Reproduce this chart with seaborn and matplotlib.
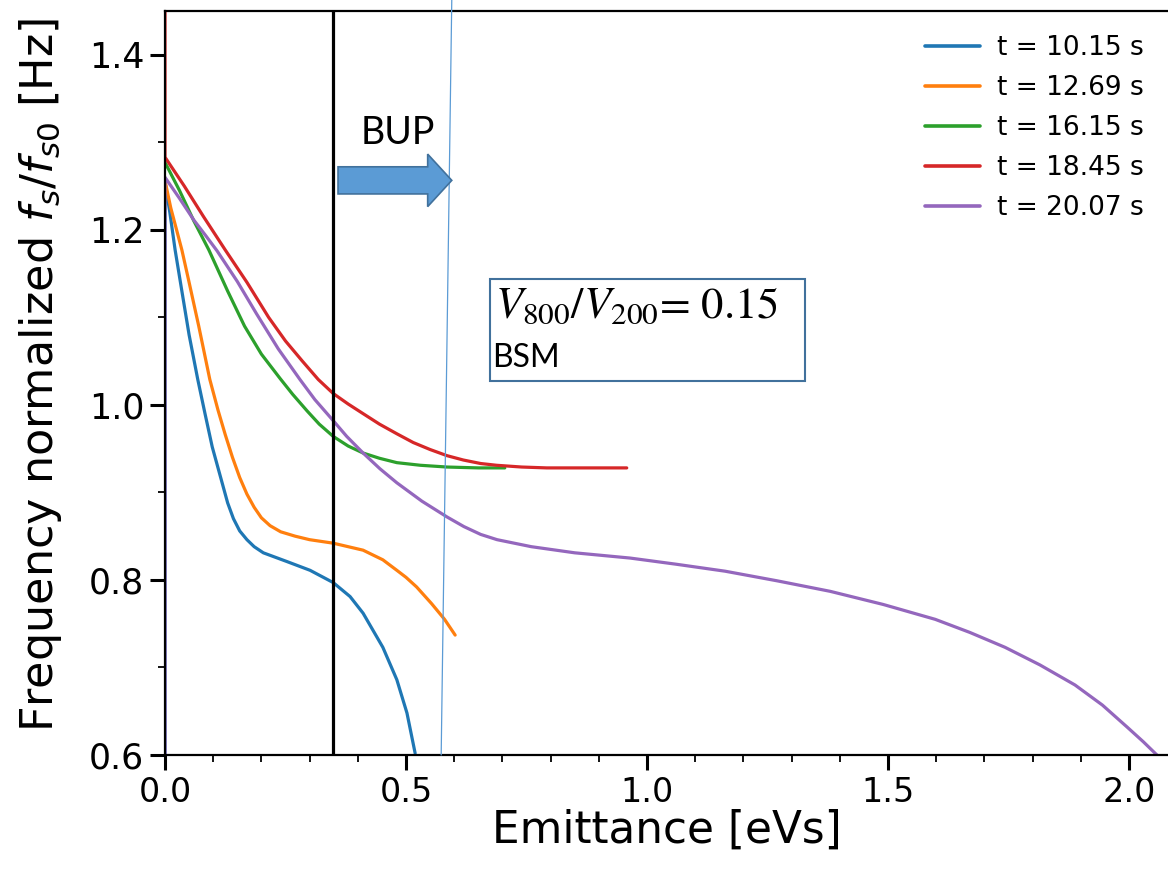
import numpy as np
import pandas as pd
import matplotlib
matplotlib.use("Agg")
import matplotlib.pyplot as plt
import seaborn as sns
from matplotlib.ticker import MultipleLocator, FormatStrFormatter
from matplotlib.patches import FancyArrow, Rectangle

# ---- data ----
labels = ["t = 10.15 s", "t = 12.69 s", "t = 16.15 s", "t = 18.45 s", "t = 20.07 s"]
colors = ["#1f77b4", "#ff7f0e", "#2ca02c", "#d62728", "#9467bd"]

x_blue = [0.0, 0.0, 0.010, 0.021, 0.035, 0.050, 0.068, 0.083, 0.098, 0.118, 0.130, 0.142, 0.155,
          0.170, 0.185, 0.204, 0.253, 0.301, 0.349, 0.384, 0.411, 0.452, 0.481, 0.502, 0.519]
y_blue = [0.55, 1.255, 1.220, 1.177, 1.130, 1.080, 1.029, 0.990, 0.952, 0.912, 0.888, 0.870, 0.856,
          0.846, 0.838, 0.831, 0.821, 0.811, 0.797, 0.781, 0.762, 0.723, 0.686, 0.648, 0.602]

x_orange = [0.0, 0.012, 0.024, 0.035, 0.050, 0.070, 0.093, 0.110, 0.125, 0.140, 0.155, 0.170,
            0.185, 0.200, 0.218, 0.240, 0.270, 0.300, 0.349, 0.411, 0.452, 0.481, 0.500, 0.522,
            0.553, 0.580, 0.602]
y_orange = [1.256, 1.225, 1.200, 1.177, 1.140, 1.090, 1.029, 0.994, 0.966, 0.940, 0.917, 0.898,
            0.883, 0.871, 0.862, 0.855, 0.850, 0.846, 0.842, 0.834, 0.823, 0.811, 0.803, 0.792,
            0.773, 0.755, 0.737]

x_green = [0.0, 0.030, 0.060, 0.091, 0.130, 0.165, 0.200, 0.239, 0.265, 0.295, 0.320, 0.349,
           0.380, 0.411, 0.445, 0.481, 0.530, 0.585, 0.650, 0.705]
y_green = [1.277, 1.245, 1.210, 1.177, 1.130, 1.090, 1.058, 1.030, 1.012, 0.993, 0.978, 0.964,
           0.953, 0.945, 0.939, 0.934, 0.931, 0.929, 0.928, 0.928]

x_red = [0.0, 0.0, 0.040, 0.080, 0.125, 0.170, 0.215, 0.250, 0.285, 0.318, 0.349, 0.380, 0.411,
         0.445, 0.481, 0.515, 0.550, 0.585, 0.619, 0.655, 0.688, 0.740, 0.792, 0.958]
y_red = [1.60, 1.283, 1.250, 1.215, 1.177, 1.140, 1.100, 1.073, 1.050, 1.029, 1.013, 1.001, 0.990,
         0.978, 0.967, 0.957, 0.949, 0.942, 0.937, 0.933, 0.931, 0.929, 0.928, 0.928]

x_purple = [0.0, 0.0, 0.030, 0.060, 0.085, 0.108, 0.150, 0.190, 0.235, 0.280, 0.311, 0.349, 0.377,
            0.411, 0.446, 0.481, 0.533, 0.585, 0.620, 0.655, 0.689, 0.760, 0.850, 0.965, 1.060,
            1.162, 1.270, 1.380, 1.490, 1.598, 1.670, 1.743, 1.815, 1.888, 1.945, 1.996, 2.030,
            2.058]
y_purple = [0.55, 1.260, 1.236, 1.211, 1.193, 1.176, 1.141, 1.104, 1.064, 1.029, 1.006, 0.982, 0.964,
            0.945, 0.927, 0.911, 0.890, 0.872, 0.861, 0.852, 0.846, 0.838, 0.831, 0.825, 0.818,
            0.810, 0.799, 0.787, 0.772, 0.755, 0.740, 0.723, 0.703, 0.680, 0.657, 0.632, 0.615,
            0.600]

series_x = [x_blue, x_orange, x_green, x_red, x_purple]
series_y = [y_blue, y_orange, y_green, y_red, y_purple]

bup_x = 0.349            # black vertical line
thin_x = [0.573, 0.595]  # thin blue boundary line
thin_y = [0.60, 1.463]

# ---- style ----
sns.set_style("ticks")
plt.rcParams["font.family"] = ["DejaVu Sans"]
plt.rcParams["mathtext.fontset"] = "dejavusans"
for k in ["text.color", "axes.labelcolor", "xtick.color", "ytick.color"]:
    plt.rcParams[k] = "black"

fig = plt.figure(figsize=(11.68, 8.74), dpi=100)
ax = fig.add_axes([165 / 1168, 119 / 874, 1 - 165 / 1168, (755 - 11) / 874])

for xs, ys, lab, col in zip(series_x, series_y, labels, colors):
    sns.lineplot(x=xs, y=ys, ax=ax, color=col, label=lab, sort=False,
                 estimator=None, linewidth=2.3)

ax.axvline(bup_x, color="black", linewidth=2.3, zorder=3)
ax.plot(thin_x, thin_y, color="#5B9BD5", linewidth=0.9, clip_on=False, zorder=4)

ax.set_xlim(0, 2.081)
ax.set_ylim(0.6, 1.45)
ax.xaxis.set_major_locator(MultipleLocator(0.5))
ax.xaxis.set_minor_locator(MultipleLocator(0.1))
ax.yaxis.set_major_locator(MultipleLocator(0.2))
ax.yaxis.set_minor_locator(MultipleLocator(0.1))
ax.xaxis.set_major_formatter(FormatStrFormatter("%.1f"))
ax.yaxis.set_major_formatter(FormatStrFormatter("%.1f"))

ax.tick_params(axis="both", which="major", length=11, width=2.2, labelsize=24, pad=4)
ax.tick_params(axis="y", which="major", labelsize=25)
ax.tick_params(axis="both", which="minor", length=5, width=1.3)
for s in ["left", "bottom", "top"]:
    ax.spines[s].set_linewidth(1.6)
    ax.spines[s].set_color("black")
ax.spines["right"].set_visible(False)

ax.set_xlabel("Emittance [eVs]", fontsize=31.5, labelpad=0)
ax.set_ylabel(r"Frequency normalized $f_s/f_{s0}$ [Hz]", fontsize=32)
ax.yaxis.set_label_coords((64 - 165) / 1003, (755 - 375) / 744)

leg = ax.legend(loc="upper left", bbox_to_anchor=(925 / 1168, 1 - 35 / 874),
                bbox_transform=fig.transFigure, frameon=False, fontsize=19,
                borderpad=0, borderaxespad=0, handlelength=2.1, handletextpad=0.62,
                labelspacing=0.53)
for line in leg.get_lines():
    line.set_linewidth(2.6)

# BUP arrow and text
arrow = FancyArrow(0.359, 1.2565, 0.236, 0.0, width=0.031, head_width=0.06,
                   head_length=0.05, length_includes_head=True,
                   facecolor="#5B9BD5", edgecolor="#41719C", linewidth=1.2, zorder=5)
ax.add_patch(arrow)
ax.text(0.483, 1.311, "BUP", fontsize=27, family="Lato", ha="center", va="center", zorder=6)

# Box with ratio annotation
rect = Rectangle((0.674, 1.0274), 0.654, 0.1166, facecolor="white",
                 edgecolor="#41719C", linewidth=1.5, zorder=5)
ax.add_patch(rect)
ax.text(0.685, 1.112, r"$V_{800}/V_{200}$= 0.15", fontsize=32, ha="left",
        va="center", zorder=6, math_fontfamily="stix", family="STIXGeneral")
ax.text(0.679, 1.053, "BSM", fontsize=23, family="Lato", ha="left", va="center", zorder=6)

fig.savefig("out.png", dpi=100)
